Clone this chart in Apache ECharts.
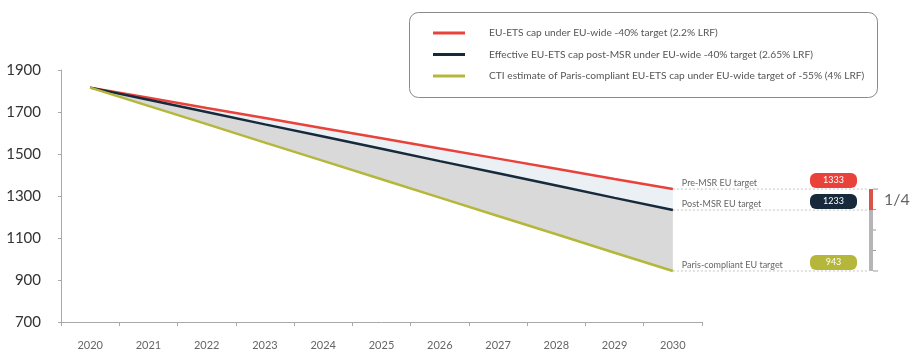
<!DOCTYPE html>
<html>
<head>
<meta charset="utf-8">
<script src="https://cdn.jsdelivr.net/npm/echarts@6/dist/echarts.min.js"></script>
<style>
  html, body { margin: 0; padding: 0; background: #fff; }
  #chart { width: 914px; height: 355px; }
</style>
</head>
<body>
<div id="chart"></div>
<script>
// EU-ETS cap trajectories 2020-2030 (Mt CO2)
const years = ['2020', '2021', '2022', '2023', '2024', '2025', '2026', '2027', '2028', '2029', '2030'];
const yTicks = [700, 900, 1100, 1300, 1500, 1700, 1900];

const capPreMSR  = [1816, 1768, 1719, 1671, 1623, 1575, 1526, 1478, 1430, 1381, 1333];
const capPostMSR = [1816, 1758, 1700, 1641, 1583, 1525, 1466, 1408, 1350, 1291, 1233];
const capParis   = [1816, 1729, 1642, 1554, 1467, 1380, 1292, 1205, 1118, 1030, 943];

const seriesNames = [
  'EU-ETS cap under EU-wide -40% target (2.2% LRF)',
  'Effective EU-ETS cap post-MSR under EU-wide -40% target (2.65% LRF)',
  'CTI estimate of Paris-compliant EU-ETS cap under EU-wide target of -55% (4% LRF)'
];
const targetLabels = ['Pre-MSR EU target', 'Post-MSR EU target', 'Paris-compliant EU target'];
const targetValues = [capPreMSR[10], capPostMSR[10], capParis[10]];
const shareLabel = '1/4';

const RED = '#e8423b';
const NAVY = '#162a3c';
const OLIVE = '#b4b73a';
const FONT = 'Lato, "DejaVu Sans", sans-serif';

const bandLow = capPostMSR.map((v, i) => v - capParis[i]);
const bandHigh = capPreMSR.map((v, i) => v - capPostMSR[i]);

const chart = echarts.init(document.getElementById('chart'));

const option = {
  animation: false,
  backgroundColor: '#fff',
  grid: { left: 61, right: 212, top: 70, bottom: 33 },
  legend: {
    left: 428, top: 23, orient: 'vertical',
    itemWidth: 32, itemHeight: 3, itemGap: 11.5,
    icon: 'rect',
    data: seriesNames,
    textStyle: { fontFamily: FONT, fontSize: 10.2, color: '#555', padding: [0, 0, 0, 19] }
  },
  xAxis: {
    type: 'category', data: years, boundaryGap: true,
    axisLine: { lineStyle: { color: '#a8a8a8', width: 1 } },
    axisTick: { show: true, length: 4, lineStyle: { color: '#a8a8a8' } },
    axisLabel: { fontFamily: FONT, fontSize: 11, color: '#666', margin: 18 }
  },
  yAxis: {
    type: 'value', min: 700, max: 1900, interval: 200,
    axisLine: { show: true, lineStyle: { color: '#a8a8a8', width: 1 } },
    axisTick: { show: true, length: 3, lineStyle: { color: '#a8a8a8' } },
    splitLine: { show: false },
    axisLabel: { fontFamily: FONT, fontSize: 15, color: '#333', margin: 20,
      formatter: v => yTicks.includes(v) ? String(v) : '' }
  },
  series: [
    { name: 'base', type: 'line', stack: 'band', data: capParis, symbol: 'none',
      lineStyle: { width: 0 }, silent: true },
    { name: 'gap-low', type: 'line', stack: 'band', data: bandLow, symbol: 'none',
      lineStyle: { width: 0 }, areaStyle: { color: '#d9d9d9', opacity: 1 }, silent: true },
    { name: 'gap-high', type: 'line', stack: 'band', data: bandHigh, symbol: 'none',
      lineStyle: { width: 0 }, areaStyle: { color: '#eaf0f4', opacity: 1 }, silent: true },
    { name: seriesNames[0], type: 'line', data: capPreMSR, symbol: 'none',
      lineStyle: { color: RED, width: 2.5 }, itemStyle: { color: RED }, z: 5 },
    { name: seriesNames[1], type: 'line', data: capPostMSR, symbol: 'none',
      lineStyle: { color: NAVY, width: 2.5 }, itemStyle: { color: NAVY }, z: 5 },
    { name: seriesNames[2], type: 'line', data: capParis, symbol: 'none',
      lineStyle: { color: OLIVE, width: 2.5 }, itemStyle: { color: OLIVE }, z: 5 }
  ]
};
chart.setOption(option);

// Annotation layer: legend frame, target guides, value badges and the ratio gauge
const badgeColors = [RED, NAVY, OLIVE];
const graphics = [{
  type: 'rect', left: 409, top: 12, z: -1,
  shape: { width: 468, height: 85, r: 9 },
  style: { fill: '#fff', stroke: '#8a8a8a', lineWidth: 1 }
}];

const ends = targetValues.map(v => chart.convertToPixel({ gridIndex: 0 }, [years[years.length - 1], v]));
const guideEnd = 868;

ends.forEach((p, i) => {
  graphics.push({
    type: 'line', z: 1,
    shape: { x1: p[0], y1: p[1], x2: guideEnd, y2: p[1] },
    style: { stroke: '#c4c4c4', lineWidth: 1, lineDash: [2, 2] }
  });
  graphics.push({
    type: 'text', z: 3, x: p[0] + 9, y: p[1] - 1,
    style: { text: targetLabels[i], fontFamily: FONT, fontSize: 9, fill: '#666',
      textAlign: 'left', textVerticalAlign: 'bottom' }
  });
  graphics.push({
    type: 'rect', z: 3, x: 810, y: p[1] - 16,
    shape: { width: 47, height: 15, r: 6 },
    style: { fill: badgeColors[i] }
  });
  graphics.push({
    type: 'text', z: 4, x: 833.5, y: p[1] - 8.5,
    style: { text: String(targetValues[i]), fontFamily: FONT, fontSize: 9, fill: '#fff',
      textAlign: 'center', textVerticalAlign: 'middle' }
  });
});

// Gauge: gray bar spanning pre-MSR to Paris target, red part = pre-MSR to post-MSR
const gx = 869, gw = 4;
const yTop = ends[0][1], yMid = ends[1][1], yBot = ends[2][1];
graphics.push({ type: 'rect', z: 3, shape: { x: gx, y: yTop, width: gw, height: yBot - yTop },
  style: { fill: '#b5b5b5' } });
graphics.push({ type: 'rect', z: 4, shape: { x: gx, y: yTop, width: gw, height: yMid - yTop },
  style: { fill: '#d9534a' } });
const step = (yBot - yTop) / 4;
for (let k = 0; k <= 4; k++) {
  const yy = yTop + step * k;
  graphics.push({ type: 'line', z: 4,
    shape: { x1: gx + gw, y1: yy, x2: gx + gw + (k === 0 || k === 4 ? 5 : 3), y2: yy },
    style: { stroke: '#9a9a9a', lineWidth: 1 } });
}
graphics.push({
  type: 'text', z: 4, x: 884, y: (yTop + yMid) / 2,
  style: { text: shareLabel, fontFamily: FONT, fontSize: 16, fill: '#666',
    textAlign: 'left', textVerticalAlign: 'middle' }
});

chart.setOption({ graphic: graphics });
</script>
</body>
</html>
